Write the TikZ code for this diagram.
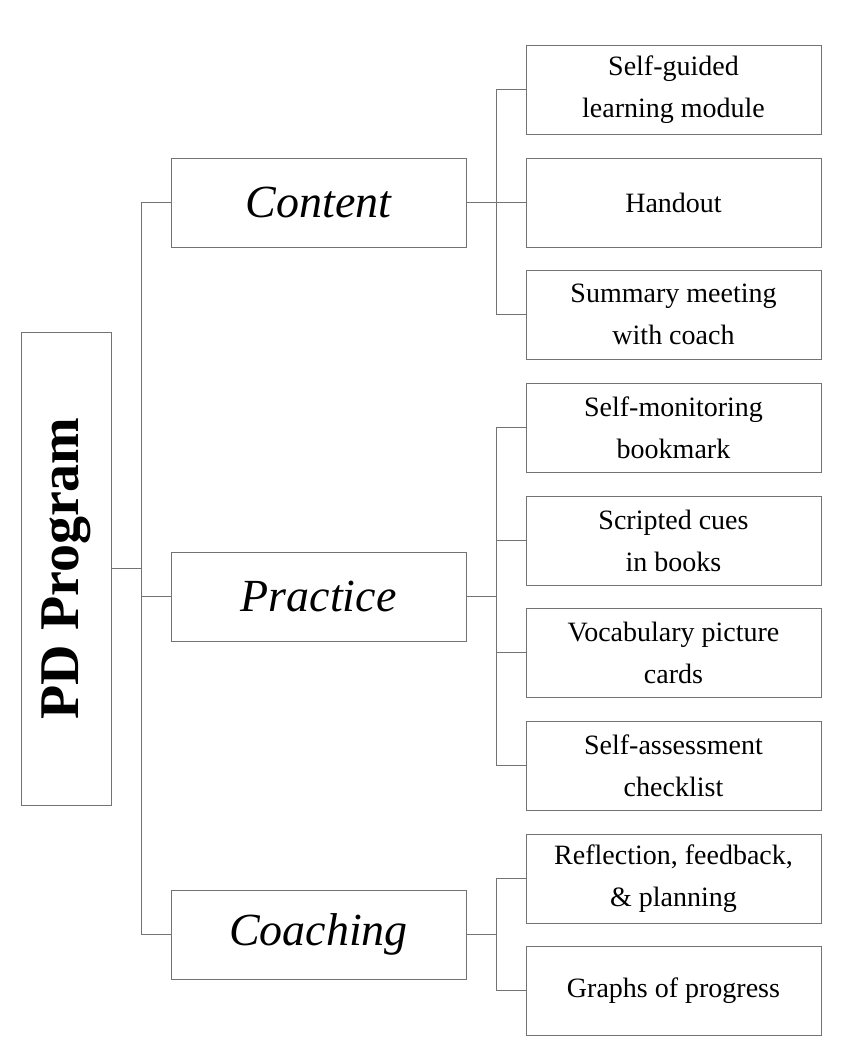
\documentclass[tikz,border=0pt]{standalone}
\usepackage{fontspec}
\setmainfont{Liberation Serif}
\begin{document}
\begin{tikzpicture}[x=1pt,y=-1pt,
  box/.style={draw=black!55,line width=1pt,minimum width=295pt,minimum height=89pt,inner sep=0pt,align=center},
  leaf/.style={box,font=\fontsize{28}{42}\selectfont},
  mid/.style={box,font=\fontsize{46}{50}\selectfont\itshape},
  ln/.style={draw=black!55,line width=1pt}]
\useasboundingbox (0,0) rectangle (852,1055);
\node[draw=black!55,line width=1pt,minimum width=90pt,minimum height=473pt,inner sep=0pt] (pd) at (66,568.5) {};
\node[rotate=90,font=\fontsize{56}{60}\selectfont\bfseries] (pdt) at (66,568.5) {PD Program};
\node[mid] (c) at (318.5,202.5) {Content};
\node[mid] (p) at (318.5,596.5) {Practice};
\node[mid] (g) at (318.5,934.5) {Coaching};
\node[leaf] (l1) at (673.5,89.5) {Self-guided\\learning module};
\node[leaf] (l2) at (673.5,202.5) {Handout};
\node[leaf] (l3) at (673.5,314.5) {Summary meeting\\with coach};
\node[leaf] (l4) at (673.5,427.5) {Self-monitoring\\bookmark};
\node[leaf] (l5) at (673.5,540.5) {Scripted cues\\in books};
\node[leaf] (l6) at (673.5,652.5) {Vocabulary picture\\cards};
\node[leaf] (l7) at (673.5,765.5) {Self-assessment\\checklist};
\node[leaf] (l8) at (673.5,878.5) {Reflection, feedback,\\\& planning};
\node[leaf] (l9) at (673.5,990.5) {Graphs of progress};
\coordinate (t) at (141,568.5);
\draw[ln] (pd.east) -- (t);
\foreach \m in {c,p,g} \draw[ln] (t) |- (\m.west);
\foreach \m/\a/\b in {c/l1/l3,p/l4/l7,g/l8/l9}{
  \draw[ln] (\m.east) -- ++(30,0);
  \draw[ln] (496,0 |- \a.west) -- (496,0 |- \b.west);
}
\foreach \m/\l in {c/l1,c/l2,c/l3,p/l4,p/l5,p/l6,p/l7,g/l8,g/l9}
  \draw[ln] (496,0 |- \l.west) -- (\l.west);
\end{tikzpicture}
\end{document}
